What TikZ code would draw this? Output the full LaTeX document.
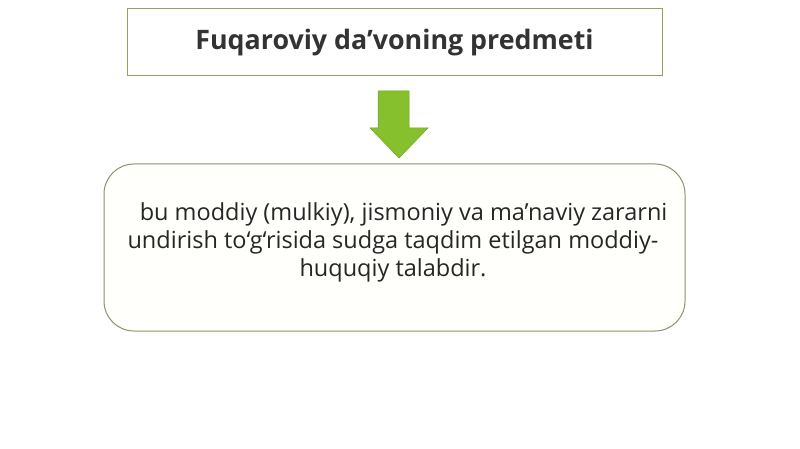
\documentclass[tikz,border=0pt]{standalone}
\usepackage{fontspec}
\setmainfont{Open Sans}
\definecolor{boxline}{RGB}{150,160,90}
\definecolor{bodyline}{RGB}{140,145,110}
\definecolor{arrowgreen}{RGB}{135,192,45}
\definecolor{arrowedge}{RGB}{110,165,35}
\definecolor{bodyfill}{RGB}{255,255,252}
\begin{document}
\begin{tikzpicture}[x=1pt,y=-1pt,
  titlebox/.style={draw=boxline, line width=1pt, fill=white, minimum width=535pt, minimum height=67pt, inner sep=0pt, font=\bfseries\fontsize{26.8}{30}\selectfont, text=black!80},
  bodybox/.style={draw=bodyline, line width=1pt, fill=bodyfill, rounded corners=30pt, minimum width=581pt, minimum height=167pt, inner sep=0pt},
  bodytextstyle/.style={align=center, text=black!85, font=\fontsize{23.5}{28}\selectfont, inner sep=0pt},
  greenarrow/.style={fill=arrowgreen, draw=arrowedge, line width=0.5pt}]
\useasboundingbox (0,0) rectangle (800,449);
\fill[white] (0,0) rectangle (800,449);
\node[titlebox] (title) at (394.5,42.5) {Fuqaroviy da’voning predmeti};
\node[bodybox] (body) at (394.5,247.5) {};
\node[bodytextstyle] (bodytext) at (393,242) {\hspace{0.9em}bu moddiy (mulkiy), jismoniy va ma’naviy zararni\\undirish to‘g‘risida sudga taqdim etilgan moddiy-\\huquqiy talabdir.};
\fill[greenarrow] (378,91) -- (409,91) -- (409,128) -- (428,128) -- (399,158) -- (370,128) -- (378,128) -- cycle;
\end{tikzpicture}
\end{document}
